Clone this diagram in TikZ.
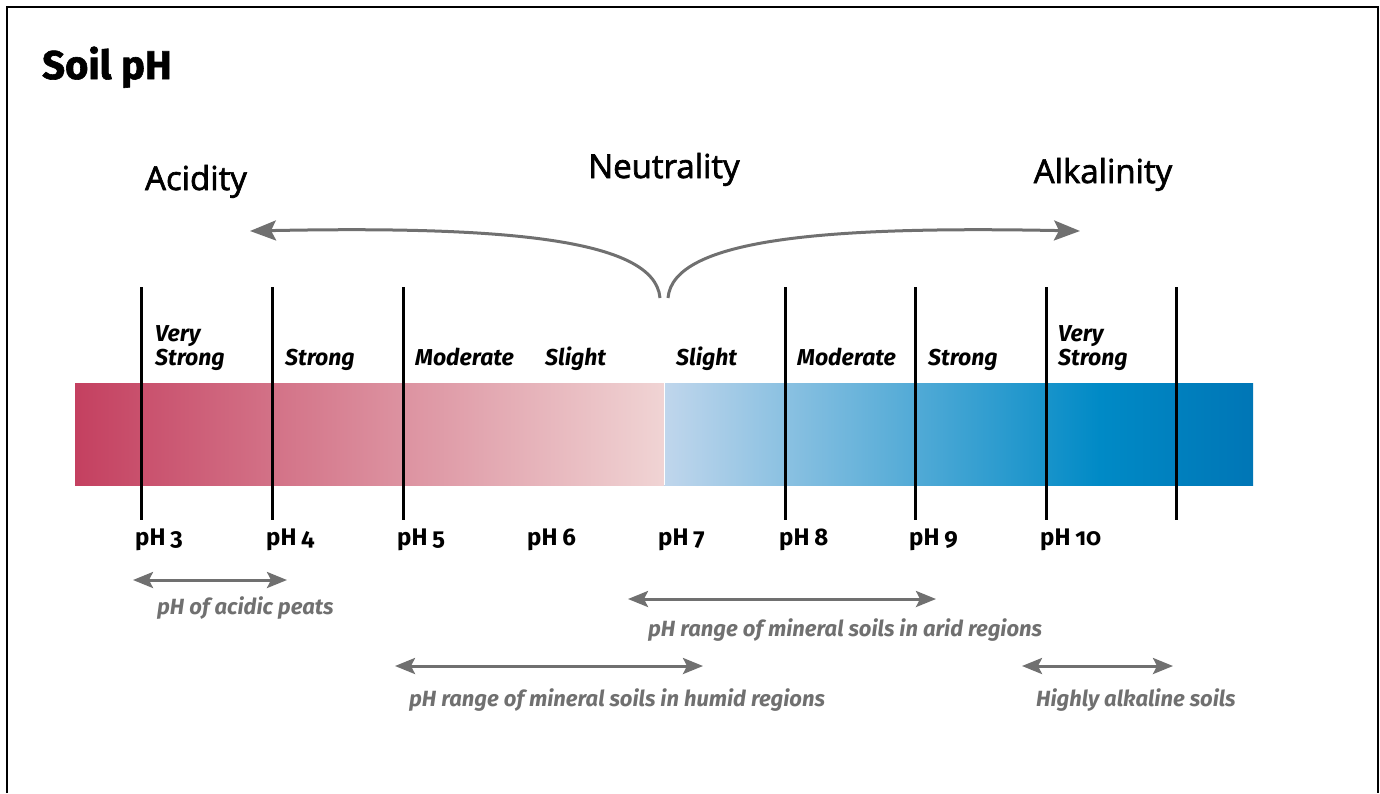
\documentclass[tikz,border=0pt]{standalone}
\usepackage{fontspec}
\setmainfont{Fira Sans}[Numbers=OldStyle]
\newfontfamily\headfont{Open Sans}[FakeBold=2]
\newfontfamily\titlefont{Fira Sans}[BoldFeatures={FakeBold=1.5}]
\usetikzlibrary{arrows.meta}
\definecolor{acidred}{RGB}{196,64,96}
\definecolor{acidpale}{RGB}{240,212,212}
\definecolor{basepale}{RGB}{192,214,236}
\definecolor{basemid}{RGB}{0,138,198}
\definecolor{baseblue}{RGB}{0,118,182}
\definecolor{arrowgray}{RGB}{112,112,112}
\pgfdeclarehorizontalshading{alkalishade}{100bp}{color(0bp)=(basepale); color(25bp)=(basepale);
  color(62bp)=(basemid); color(75bp)=(baseblue); color(100bp)=(baseblue)}
\begin{document}
\begin{tikzpicture}[x=1pt, y=-1pt,
  heading/.style={font=\headfont\fontsize{33}{36}\selectfont, anchor=base, inner sep=0pt},
  grade/.style={font=\fontsize{23}{26}\selectfont\bfseries\itshape, anchor=base west, inner sep=0pt},
  phlabel/.style={font=\fontsize{24}{28}\selectfont\bfseries, anchor=base west, inner sep=0pt},
  rangetext/.style={font=\fontsize{22}{26}\selectfont\bfseries\itshape, text=arrowgray, anchor=base west, inner sep=0pt},
  phtick/.style={line width=3pt},
  bendarrow/.style={arrowgray, line width=3pt, -{Stealth[length=26pt,width=20pt,inset=5pt]}},
  rangearrow/.style={arrowgray, line width=3pt, {Stealth[length=20pt,width=16pt,inset=4pt]}-{Stealth[length=20pt,width=16pt,inset=4pt]}}]
\useasboundingbox (0,0) rectangle (1380,793);
\draw[line width=2pt] (7,793) -- (7,7) -- (1378,7) -- (1378,793);
\node[font=\titlefont\fontsize{40}{44}\selectfont\bfseries, anchor=base west, inner sep=0pt] (title) at (42,79) {Soil pH};

% headings and the two curved arrows
\node[heading] (acid) at (196,190) {Acidity};
\node[heading] (neutral) at (664,178) {Neutrality};
\node[heading] (alkali) at (1103,183) {Alkalinity};
\coordinate (splitL) at (660,298);
\coordinate (splitR) at (668,298);
\coordinate (acidend) at (250,231);
\coordinate (alkaliend) at (1080,231);
\draw[bendarrow] (splitL) .. controls (655,238) and (500,226) .. (acidend);
\draw[bendarrow] (splitR) .. controls (673,238) and (830,226) .. (alkaliend);

% the bar
\shade[left color=acidred, right color=acidpale] (75,383) rectangle (664,485);
\shade[shading=alkalishade] (664,383) rectangle (1253,485);
\draw[white, line width=1pt] (664,383) -- (664,485);
\foreach \x in {141,272,403,785,915,1046,1176}
  \draw[phtick] (\x,287) -- (\x,520);

% grades
\node[grade] (vsa) at (155,341) {Very};
\node[grade] (vsb) at (155,365) {Strong};
\node[grade] (sa) at (285,365) {Strong};
\node[grade] (ma) at (415,365) {Moderate};
\node[grade] (sla) at (545,365) {Slight};
\node[grade] (slb) at (676,365) {Slight};
\node[grade] (mb) at (797,365) {Moderate};
\node[grade] (sb) at (928,365) {Strong};
\node[grade] (vsc) at (1058,341) {Very};
\node[grade] (vsd) at (1058,365) {Strong};

% pH values
\foreach \x/\v in {135/3,266/4,397/5,527/6,658/7,779/8,909/9,1040/10}
  \node[phlabel] (ph\v) at (\x,545) {pH\hspace{0.2em}\v};

% ranges
\coordinate (peatL) at (133,580); \coordinate (peatR) at (287,580);
\coordinate (aridL) at (628,599); \coordinate (aridR) at (936,599);
\coordinate (humidL) at (395,666); \coordinate (humidR) at (703,666);
\coordinate (highL) at (1022,666); \coordinate (highR) at (1173,666);
\draw[rangearrow] (peatL) -- (peatR);
\draw[rangearrow] (aridL) -- (aridR);
\draw[rangearrow] (humidL) -- (humidR);
\draw[rangearrow] (highL) -- (highR);
\node[rangetext] (peat) at (157,614) {pH of acidic peats};
\node[rangetext] (arid) at (648,636) {pH range of mineral soils in arid regions};
\node[rangetext] (humid) at (409,706) {pH range of mineral soils in humid regions};
\node[rangetext] (high) at (1036,706) {Highly alkaline soils};
\end{tikzpicture}
\end{document}
